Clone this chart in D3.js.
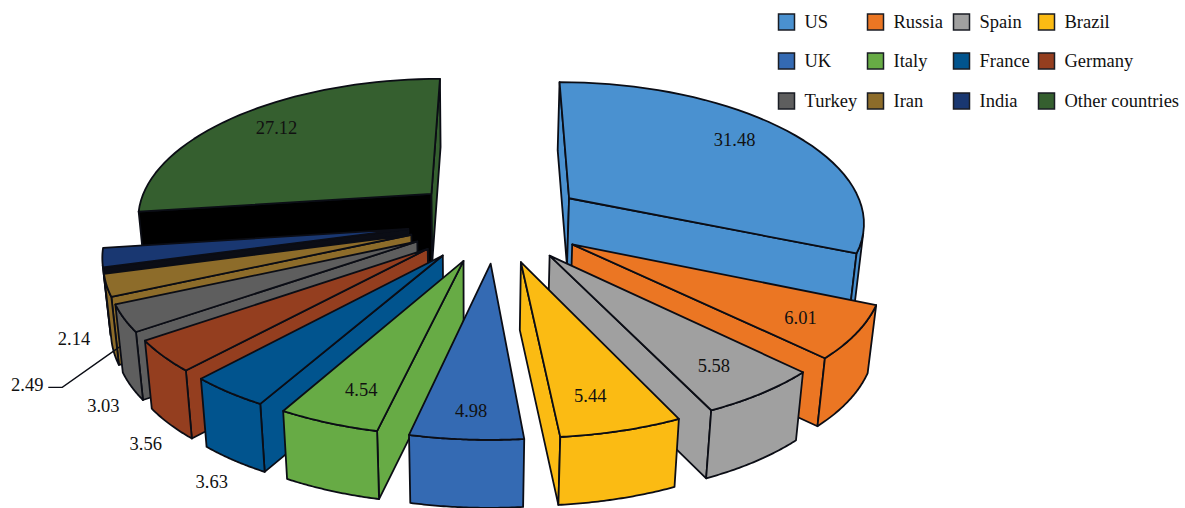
<!DOCTYPE html>
<html>
<head>
<meta charset="UTF-8">
<title>Share by country</title>
<script src="https://d3js.org/d3.v7.min.js"></script>
<style>
body { margin: 0; background: #fff; overflow: hidden; }
text { font-family: "Liberation Serif", serif; font-size: 18.5px; fill: #111; }
</style>
</head>
<body>
<svg id="chart"></svg>

<script type="text/javascript">

/* Data */
var countries = ['US', 'Russia', 'Spain', 'Brazil', 'UK', 'Italy', 'France', 'Germany', 'Turkey', 'Iran', 'India', 'Other countries'];
var shares = [31.48, 6.01, 5.58, 5.44, 4.98, 4.54, 3.63, 3.56, 3.03, 2.49, 2.14, 27.12];
var topColors = ['#4a91d0', '#eb7623', '#a0a0a0', '#fbbb13', '#346ab3', '#67ab45', '#01548e', '#943e1f', '#5e5e5e', '#8d6c2a', '#193771', '#355f2f'];

/* Global variables */
var W = 1185, H = 508
var explode = 0.3		// slices pulled out from the centre, radius = 1
var perspX = 0.155		// how fast things shrink going away from the viewer
var perspY = 0.14
var sideDrop = 68		// wall height in px
var sideShrink = 0.021	// walls narrow a little towards the bottom
var sideAxis = 470

var xScale = d3.scaleLinear().domain([-1, 1]).range([496.5 - 297, 496.5 + 297])
var yScale = d3.scaleLinear().domain([-1, 1]).range([220.5 + 138.1, 220.5 - 138.1])

// the near-black start walls at the back of the pie
var wallOverride = {'Other countries': '#000000', 'India': '#0b0d15'}

// back to front
var paintOrder = ['Other countries', 'US', 'India', 'Iran', 'Turkey', 'Germany', 'France', 'Italy', 'Russia', 'Spain', 'Brazil', 'UK']

// labels sit on the top face, or under the rim for the thin slices
var onTop = {
	'US': [-1, -7], 'Russia': [20, 9], 'Spain': [11, 10], 'Brazil': [-3, 12],
	'UK': [-2, 21], 'Italy': [-5, 12], 'Other countries': [-8, -5]
}
var underRim = {
	'France': [-22, 22], 'Germany': [-24, 20], 'Turkey': [-28, 20],
	'Iran': [-87, 32], 'India': [-36, 13]
}

var legendX = [778, 867, 953, 1038]
var legendY = [22, 61, 101]

var svg = d3.select('#chart').attr('width', W).attr('height', H)
var closedLine = d3.line()

/* Functions */

// r along the slice at angle a (clockwise from the top), z = 0 on top, 1 at the bottom of the wall
function project(slice, a, r, z) {
	var mid = (slice.startAngle + slice.endAngle) / 2
	var X = explode * Math.sin(mid) + r * Math.sin(a)
	var Y = explode * Math.cos(mid) + r * Math.cos(a)
	var x = xScale(X / (1 + perspX * Y))
	var y = yScale(Y / (1 + perspY * Y))
	return [sideAxis + (x - sideAxis) * (1 - sideShrink * z), y + sideDrop * z]
}

function polyPath(pts) {
	return closedLine(pts) + 'Z'
}

function draw_face(pts, color) {
	svg.append('path')
		.attr('d', polyPath(pts))
		.style('fill', color)
		.style('stroke', '#0b0d15')
		.style('stroke-width', 1.8)
		.style('stroke-linejoin', 'round')
}

function draw_slice(slice) {
	var name = countries[slice.index]
	var color = topColors[slice.index]
	var wall = wallOverride[name] || color
	var a0 = slice.startAngle, a1 = slice.endAngle
	var steps = d3.range(0, 41).map(function(i) { return a0 + (a1 - a0) * i / 40 })

	var apexT = project(slice, a0, 0, 0), apexB = project(slice, a0, 0, 1)
	var rimT = steps.map(function(a) { return project(slice, a, 1, 0) })
	var rimB = steps.map(function(a) { return project(slice, a, 1, 1) })

	// radial walls, only when they face the viewer
	var startWall = [apexT, rimT[0], rimB[0], apexB]
	var endWall = [rimT[40], apexT, apexB, rimB[40]]
	if (d3.polygonArea(startWall) > 0) draw_face(startWall, wall)
	if (d3.polygonArea(endWall) > 0) draw_face(endWall, color)

	// outer wall, the part of the rim that is turned towards the viewer
	var seen = d3.range(0, 40).filter(function(i) {
		return d3.polygonArea([rimT[i], rimT[i + 1], rimB[i + 1], rimB[i]]) > 0
	})
	if (seen.length) {
		var i0 = seen[0], i1 = seen[seen.length - 1] + 1
		draw_face(rimT.slice(i0, i1 + 1).concat(rimB.slice(i0, i1 + 1).reverse()), color)
	}

	draw_face([apexT].concat(rimT), color)
}

function draw_labels(slices) {
	countries.forEach(function(name, i) {
		var s = slices[i]
		var mid = (s.startAngle + s.endAngle) / 2
		var anchor = onTop[name] ? project(s, mid, 0.75, 0) : project(s, mid, 1, 1)
		var nudge = onTop[name] || underRim[name]
		svg.append('text')
			.attr('x', anchor[0] + nudge[0])
			.attr('y', anchor[1] + nudge[1])
			.attr('text-anchor', 'middle')
			.attr('dominant-baseline', 'central')
			.text(shares[i].toFixed(2))

		// Iran's value is too far out, it gets a leader
		if (name == 'Iran') {
			svg.append('path')
				.attr('d', d3.line()([
					[anchor[0] + nudge[0] + 21, anchor[1] + nudge[1] + 2],
					[anchor[0] + nudge[0] + 35, anchor[1] + nudge[1] + 2],
					[anchor[0] + 6, anchor[1] - 7]
				]))
				.style('fill', 'none')
				.style('stroke', '#0b0d15')
				.style('stroke-width', 1.4)
		}
	})
}

function draw_legend() {
	var item = svg.selectAll('g.legend')
		.data(countries)
		.enter()
		.append('g')
		.attr('class', 'legend')
		.attr('transform', function(d, i) {
			return 'translate(' + legendX[i % 4] + ',' + legendY[Math.floor(i / 4)] + ')'
		})
	item.append('rect')
		.attr('x', 0.5)
		.attr('y', -8)
		.attr('width', 16)
		.attr('height', 16)
		.style('fill', function(d, i) { return topColors[i] })
		.style('stroke', '#1a1d24')
		.style('stroke-width', 1.5)
	item.append('text')
		.attr('x', 26.5)
		.attr('dominant-baseline', 'central')
		.text(function(d) { return d })
}

/* Main code */
var slices = d3.pie().sort(null).startAngle(0).endAngle(2 * Math.PI)(shares)
paintOrder.forEach(function(name) {
	draw_slice(slices[countries.indexOf(name)])
})
draw_labels(slices)
draw_legend()

</script>
</body>
</html>
